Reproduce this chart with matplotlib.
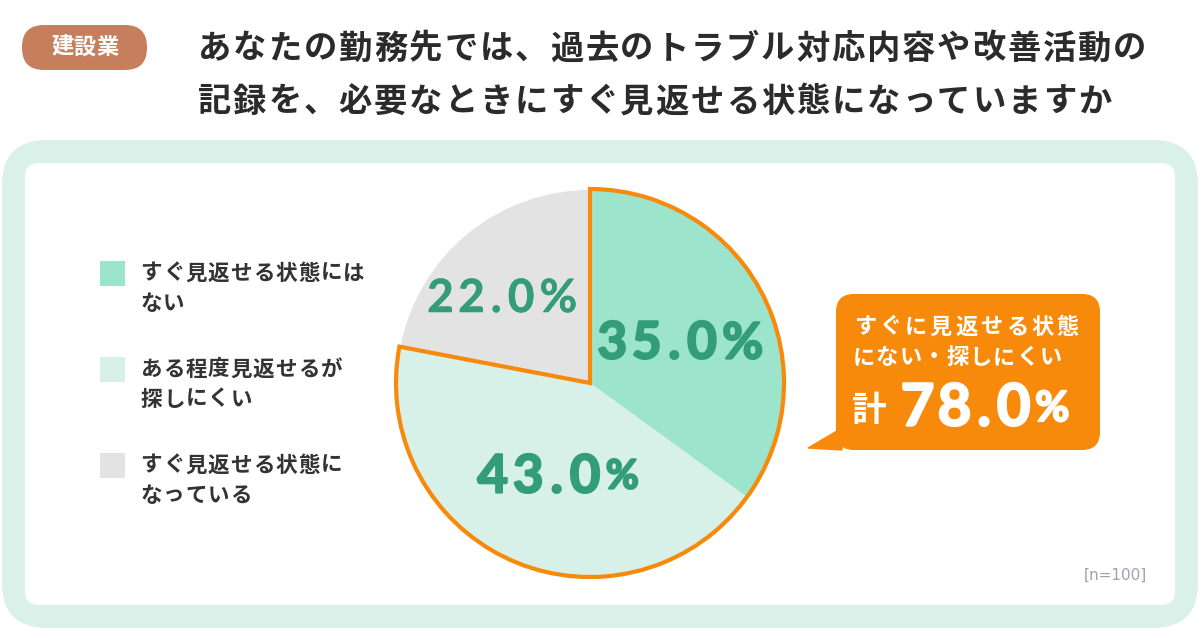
import matplotlib
matplotlib.use("Agg")
import matplotlib.pyplot as plt
import matplotlib.patheffects as pe
from matplotlib.patches import FancyBboxPatch, Rectangle, Wedge, Polygon

plt.rcParams['font.family'] = ['Noto Sans CJK JP', 'DejaVu Sans']

# --- data ---
industry = "建設業"
title_lines = ["あなたの勤務先では、過去のトラブル対応内容や改善活動の",
               "記録を、必要なときにすぐ見返せる状態になっていますか"]
categories = ["すぐ見返せる状態には\nない",
              "ある程度見返せるが\n探しにくい",
              "すぐ見返せる状態に\nなっている"]
values = [35.0, 43.0, 22.0]
colors = ["#9de4cc", "#d8f1e8", "#e3e3e3"]
callout_lines = ["すぐに見返せる状態", "にない・探しにくい"]
callout_prefix = "計"
sample_note = "[n=100]"

W, H = 1200, 630
ORANGE = "#f7890b"
GREEN = "#339c78"
DARK = "#2b2b2b"
NUMFONT = ["Lato", "DejaVu Sans"]


def Y(py):
    # pixel row (top-down) -> data y
    return H - py


def spaced(ax, x, py, s, pitch, narrow=(), **kw):
    # draw a string char by char with fixed tracking
    for ch in s:
        w = pitch * 0.6 if ch in narrow else pitch
        ax.text(x + w / 2, Y(py), ch, ha="center", va="center", **kw)
        x += w
    return x


def number(ax, x, py, s, size, pitch, pct_size, stroke=1.2, **kw):
    # tracked digits followed by a (possibly smaller) percent sign
    fx = [pe.withStroke(linewidth=stroke, foreground=kw["color"])]
    end = spaced(ax, x, py, s, pitch, narrow=(".",), fontsize=size,
                 fontweight="bold", family=NUMFONT, path_effects=fx, **kw)
    ax.text(end + 3, Y(py), "%", ha="left", va="center", fontsize=pct_size,
            fontweight="bold", family=NUMFONT, path_effects=fx, **kw)


fig = plt.figure(figsize=(12, 6.3), dpi=100)
ax = fig.add_axes([0, 0, 1, 1])

# pie (center / radius in pixel units)
cx, cy, r = 590, 383, 193
ax.pie(values, colors=colors, startangle=90, counterclock=False,
       center=(cx, Y(cy)), radius=r, wedgeprops=dict(linewidth=0))

ax.set_xlim(0, W)
ax.set_ylim(0, H)
ax.set_aspect("equal")
ax.axis("off")

# background panels
ax.add_patch(FancyBboxPatch((2, Y(628)), 1196, 488,
                            boxstyle="round,pad=0,rounding_size=45",
                            fc="#d9f1e8", ec="none", zorder=-3))
ax.add_patch(FancyBboxPatch((25, Y(605)), 1150, 442,
                            boxstyle="round,pad=0,rounding_size=14",
                            fc="white", ec="none", zorder=-2))

# orange outline around first two slices
total = sum(values)
frac = (values[0] + values[1]) / total
ax.add_patch(Wedge((cx, Y(cy)), r + 1, 90 - 360 * frac, 90, fill=False,
                   ec=ORANGE, lw=3, joinstyle="miter", zorder=5))

# slice labels
label_pos = [  # x, y, size, digit pitch, % size, stroke
    (595, 344, 37, 34.5, 36, 1.6),
    (475, 477, 38, 35.5, 29, 1.6),
    (425, 299, 33, 31, 33, 0.4),
]
for v, (x0, py, fs, pitch, ps, sw) in zip(values, label_pos):
    number(ax, x0, py, f"{v:.1f}", fs, pitch, ps, stroke=sw, color=GREEN,
           zorder=6)

# tag + title
ax.add_patch(FancyBboxPatch((22, Y(70)), 125, 45,
                            boxstyle="round,pad=0,rounding_size=22",
                            fc="#c57f5d", ec="none"))
spaced(ax, 51, 47, industry, 22.5, fontsize=16, fontweight="bold",
       color="white")
for i, line in enumerate(title_lines):
    spaced(ax, 197, 49 + i * 53, line, 35.2, fontsize=24,
           fontweight="bold", color=DARK)

# legend
for i, (cat, c) in enumerate(zip(categories, colors)):
    top = 261 + i * 96
    ax.add_patch(Rectangle((100, Y(top + 25)), 25, 25, fc=c, ec="none"))
    for j, part in enumerate(cat.split("\n")):
        spaced(ax, 140, top + 12 + j * 30, part, 22.5, fontsize=15.5,
               fontweight="bold", color="#333333")

# callout bubble
ax.add_patch(FancyBboxPatch((836, Y(450)), 264, 156,
                            boxstyle="round,pad=0,rounding_size=18",
                            fc=ORANGE, ec="none"))
ax.add_patch(Polygon([(808, Y(448)), (842, Y(428)), (842, Y(450))],
                     closed=True, fc=ORANGE, ec=ORANGE, lw=1))
for j, (line, pitch) in enumerate(zip(callout_lines, [25.4, 23.4])):
    spaced(ax, 852, 327 + j * 31, line, pitch, fontsize=16,
           fontweight="bold", color="white")
ax.text(852, Y(411), callout_prefix, ha="left", va="center", fontsize=25,
        fontweight="bold", color="white")
number(ax, 899, 409, f"{frac * 100:.1f}", 42, 37, 30, stroke=1.6,
       color="white")

ax.text(1147, Y(575), sample_note, ha="right", va="center", fontsize=11,
        color="#a3a0b4", family="DejaVu Sans")

fig.savefig("out.png", dpi=100, facecolor="white")
